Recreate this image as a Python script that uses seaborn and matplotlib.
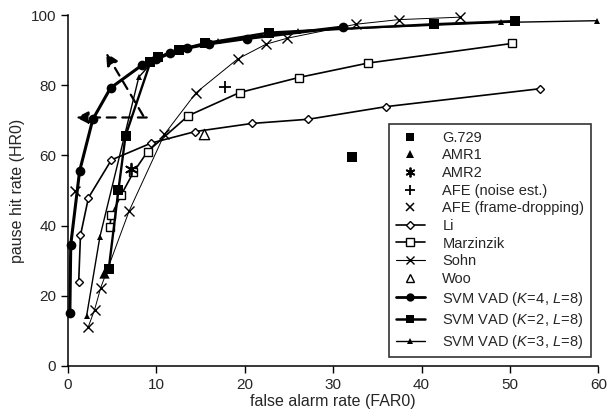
import matplotlib
matplotlib.use("Agg")
import matplotlib.pyplot as plt
import pandas as pd
import seaborn as sns
from matplotlib.lines import Line2D

# curves (FAR0, HR0)
svm_k4_far = [0.2, 0.3, 1.3, 2.8, 4.8, 8.4, 10.0, 11.5, 13.5, 16.0, 20.2, 31.1]
svm_k4_hr = [15.0, 34.5, 55.5, 70.3, 79.2, 85.8, 87.6, 89.2, 90.6, 91.8, 93.3, 96.6]

svm_k2_far = [4.6, 5.7, 6.5, 9.3, 10.2, 12.5, 15.5, 22.7, 41.4, 50.6]
svm_k2_hr = [27.6, 50.2, 65.6, 86.5, 88.0, 90.1, 92.0, 95.0, 97.4, 98.3]

svm_k3_far = [2.1, 3.6, 8.0, 9.5, 12.0, 17.0, 26.0, 49.0, 59.9]
svm_k3_hr = [14.3, 36.8, 82.3, 86.5, 89.5, 92.6, 95.5, 97.9, 98.4]

li_far = [1.2, 1.4, 2.3, 4.9, 9.4, 14.4, 20.8, 27.2, 36.0, 53.4]
li_hr = [23.9, 37.2, 47.9, 58.7, 63.5, 66.8, 69.1, 70.3, 73.9, 79.0]

marz_far = [4.7, 4.9, 6.0, 7.4, 9.0, 13.6, 19.4, 26.1, 33.9, 50.2]
marz_hr = [39.5, 42.9, 48.7, 55.2, 61.1, 71.3, 77.9, 82.2, 86.3, 91.9]

sohn_far = [2.3, 3.0, 3.7, 6.9, 10.9, 14.5, 19.2, 22.4, 24.8, 32.6, 37.4, 44.3]
sohn_hr = [11.2, 16.0, 22.3, 44.1, 66.0, 77.9, 87.5, 91.7, 93.4, 97.4, 98.7, 99.4]

# single operating points
g729 = (32.1, 59.5)
amr1 = (4.1, 26.6)
amr2 = (7.1, 56.0)
afe_noise = (17.8, 79.6)
afe_drop = (0.8, 49.8)
woo = (15.4, 66.2)

sns.set_style("ticks")
plt.rcParams["font.family"] = ["Liberation Sans", "DejaVu Sans"]
plt.rcParams["mathtext.fontset"] = "custom"
plt.rcParams["mathtext.rm"] = "Liberation Sans"
plt.rcParams["mathtext.it"] = "Liberation Sans:italic"

fig = plt.figure(figsize=(6.08, 4.19), dpi=100)
ax = fig.add_axes([0.112, 0.127, 0.872, 0.837])


def curve(x, y, **kw):
    df = pd.DataFrame({"far": x, "hr": y})
    kw.setdefault("mec", "black")
    sns.lineplot(data=df, x="far", y="hr", sort=False, estimator=None,
                 color="black", ax=ax, clip_on=False, **kw)


curve(sohn_far, sohn_hr, lw=0.7, marker="x", ms=7, mew=1.0)
curve(li_far, li_hr, lw=1.2, marker="D", ms=4.5, mfc="white", mew=1.0)
curve(marz_far, marz_hr, lw=1.2, marker="s", ms=6, mfc="white", mew=1.0)
curve(svm_k3_far, svm_k3_hr, lw=1.0, marker="^", ms=4, mew=0)
curve(svm_k2_far, svm_k2_hr, lw=1.7, marker="s", ms=6.5, mew=0)
curve(svm_k4_far, svm_k4_hr, lw=2.2, marker="o", ms=7, mew=0)

singles = [
    (g729, dict(marker="s", s=55, color="black", linewidths=0)),
    (amr1, dict(marker="^", s=55, color="black", linewidths=0)),
    (amr2, dict(marker=(6, 2, 0), s=70, color="black", linewidths=1.3)),
    (afe_noise, dict(marker="+", s=70, color="black", linewidths=1.3)),
    (afe_drop, dict(marker="x", s=50, color="black", linewidths=1.1)),
    (woo, dict(marker="^", s=55, facecolor="white", edgecolor="black", linewidths=1.0)),
]
for (px, py), kw in singles:
    sns.scatterplot(x=[px], y=[py], ax=ax, zorder=4, clip_on=False, **kw)

# dashed arrows
arrow = dict(arrowstyle="-|>", linestyle=(0, (4, 3)), lw=1.6, color="black",
             mutation_scale=18, shrinkA=0, shrinkB=0)
ax.annotate("", xy=(0.9, 70.8), xytext=(8.9, 70.8), arrowprops=arrow)
ax.annotate("", xy=(4.3, 89.2), xytext=(8.5, 71.3), arrowprops=arrow)

ax.set_xlim(0, 60)
ax.set_ylim(0, 100)
ax.set_xticks(range(0, 61, 10))
ax.set_yticks(range(0, 101, 20))
ax.tick_params(labelsize=11, length=5, width=1, direction="out", color="black")
ax.set_xlabel("false alarm rate (FAR0)", fontsize=11.5, labelpad=2)
ax.set_ylabel("pause hit rate (HR0)", fontsize=11.5, labelpad=4)
sns.despine(ax=ax)
for s in ("left", "bottom"):
    ax.spines[s].set_linewidth(1.1)
    ax.spines[s].set_color("black")

handles = [
    Line2D([], [], ls="none", marker="s", ms=6, color="black", mew=0),
    Line2D([], [], ls="none", marker="^", ms=6, color="black", mew=0),
    Line2D([], [], ls="none", marker=(6, 2, 0), ms=7, color="black", mew=1.3),
    Line2D([], [], ls="none", marker="+", ms=7, color="black", mew=1.3),
    Line2D([], [], ls="none", marker="x", ms=5.5, color="black", mew=1.1),
    Line2D([], [], lw=1.2, marker="D", ms=4, mfc="white", mec="black", color="black"),
    Line2D([], [], lw=1.2, marker="s", ms=5.5, mfc="white", mec="black", color="black"),
    Line2D([], [], lw=0.8, marker="x", ms=6, color="black"),
    Line2D([], [], ls="none", marker="^", ms=5.5, mfc="white", mec="black", mew=1.0),
    Line2D([], [], lw=2.0, marker="o", ms=6, color="black", mew=0),
    Line2D([], [], lw=1.8, marker="s", ms=5.5, color="black", mew=0),
    Line2D([], [], lw=1.0, marker="^", ms=4, color="black", mew=0),
]
labels = [
    "G.729", "AMR1", "AMR2", "AFE (noise est.)", "AFE (frame-dropping)",
    "Li", "Marzinzik", "Sohn", "Woo",
    r"SVM VAD ($K\!=\!4$, $L\!=\!8$)",
    r"SVM VAD ($K\!=\!2$, $L\!=\!8$)",
    r"SVM VAD ($K\!=\!3$, $L\!=\!8$)",
]
leg = ax.legend(handles, labels, loc="lower right", bbox_to_anchor=(0.986, 0.024),
                fontsize=10.5, frameon=True, fancybox=False, edgecolor="black",
                handlelength=2.0, handletextpad=1.2, labelspacing=0.25,
                borderpad=0.45, borderaxespad=0)
leg.get_frame().set_linewidth(1.2)

fig.savefig("out.png", dpi=100)
